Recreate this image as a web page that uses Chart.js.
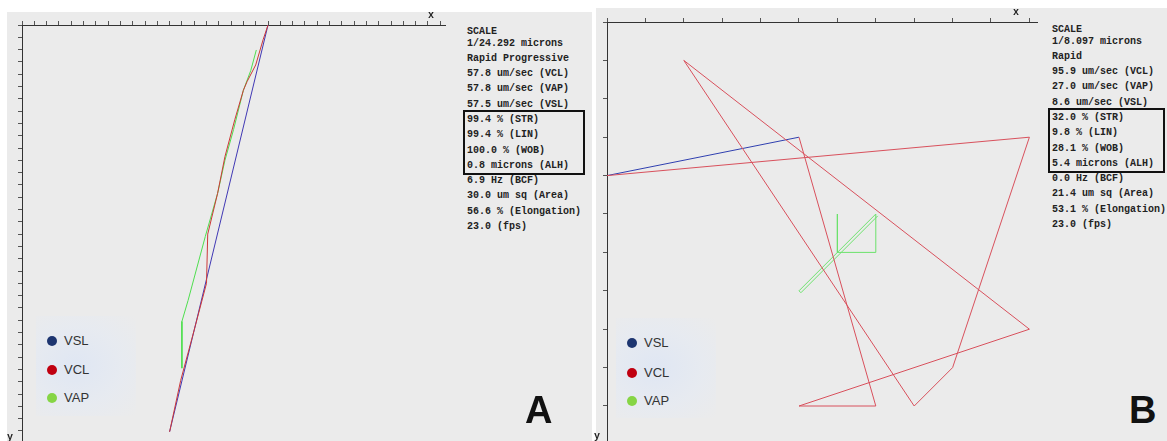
<!DOCTYPE html>
<html>
<head>
<meta charset="utf-8">
<script src="https://cdn.jsdelivr.net/npm/chart.js@4.4.1/dist/chart.umd.min.js"></script>
<style>
  html, body { margin: 0; padding: 0; background: #fff; }
  body { width: 1167px; height: 441px; position: relative; overflow: hidden; font-family: "Liberation Sans", Arial, sans-serif; }
  .panel { position: absolute; background: #ebebeb; }
  .track { position: absolute; }
  .stats { position: absolute; font: bold 10px "Liberation Mono", monospace; color: #222; white-space: pre; }
  .stats div { height: 15.3px; line-height: 15.3px; }
  .stats .first { height: 9px; line-height: 9px; }
  .stats .box { border: 2px solid #111; margin-left: -4px; padding-left: 2px; height: auto; line-height: normal; margin-top: -2px; margin-bottom: -2px; }
  .legend { position: absolute; width: 100px; height: 100px;
    background: radial-gradient(ellipse at 40% 50%, rgba(222,230,244,0.9) 0%, rgba(228,234,244,0.6) 55%, rgba(235,235,235,0) 100%); }
  .legend div { position: absolute; left: 11px; font-size: 13px; color: #333; }
  .legend span { display: inline-block; width: 10px; height: 10px; border-radius: 50%; margin-right: 7px; vertical-align: -1px; }
  .letter { position: absolute; font: bold 38px "Liberation Sans", Arial, sans-serif; color: #111; }
  .axlbl { position: absolute; font: bold 10px "Liberation Mono", monospace; color: #222; }
</style>
</head>
<body>
<div class="panel" style="left:7px;top:12px;width:585px;height:429px"></div>
<div class="panel" style="left:596px;top:8px;width:571px;height:433px"></div>

<div class="legend" style="left:36px;top:316px"><div style="top:17px"><span style="background:#1d3570"></span>VSL</div><div style="top:46px"><span style="background:#c00010"></span>VCL</div><div style="top:74px"><span style="background:#86d545"></span>VAP</div></div>
<div class="legend" style="left:616px;top:318px"><div style="top:17px"><span style="background:#1d3570"></span>VSL</div><div style="top:47px"><span style="background:#c00010"></span>VCL</div><div style="top:75px"><span style="background:#86d545"></span>VAP</div></div>

<div class="track" style="left:0;top:0;width:446px;height:441px"><canvas id="trackA"></canvas></div>
<div class="track" style="left:590px;top:0;width:448px;height:441px"><canvas id="trackB"></canvas></div>

<div class="axlbl" style="left:428px;top:10px">x</div>
<div class="axlbl" style="left:1013px;top:7px">x</div>
<div class="axlbl" style="left:7px;top:432px">y</div>
<div class="axlbl" style="left:594px;top:431px">y</div>

<div class="stats" id="statsA" style="left:467px;top:26.5px"></div>
<div class="stats" id="statsB" style="left:1052px;top:24.5px"></div>

<div class="letter" style="left:525px;top:389px">A</div>
<div class="letter" style="left:1129px;top:389px">B</div>

<script>
// Track A (one tick = 1 unit, y grows downward)
const vslAX = [20, 12];
const vslAY = [0, 33.07];
const vclAX = [20, 19.6, 19.0, 18.3, 18.0, 17.3, 16.5, 15.9, 15.1, 15.0, 14.0, 12.9, 12.0];
const vclAY = [0, 1.2, 3.25, 4.6, 5.3, 7.7, 10.7, 13.7, 17.0, 21.0, 24.8, 28.9, 33.07];
const vapAX = [19.05, 18.6, 18.0, 17.2, 16.5, 15.9, 14.9, 13.5, 13.0, 13.0];
const vapAY = [2.03, 3.7, 5.3, 8.5, 11.0, 13.7, 17.2, 22.4, 24.1, 27.9];

// Track B
const vslBX = [0, 5];
const vslBY = [4, 3];
const vclBX = [0, 11, 9, 8, 2, 11, 5, 7, 5];
const vclBY = [4, 3, 9, 10, 1, 8, 10, 10, 3];
const vapBX = [6, 6, 7, 7, 5, 5.05, 7.05];
const vapBY = [5, 6, 6, 5, 7, 7.05, 5.05];

// Stats text
const statsA = ['SCALE', '1/24.292 microns', 'Rapid Progressive', '57.8 um/sec (VCL)', '57.8 um/sec (VAP)', '57.5 um/sec (VSL)',
  '99.4 % (STR)', '99.4 % (LIN)', '100.0 % (WOB)', '0.8 microns (ALH)',
  '6.9 Hz (BCF)', '30.0 um sq (Area)', '56.6 % (Elongation)', '23.0 (fps)'];
const statsB = ['SCALE', '1/8.097 microns', 'Rapid', '95.9 um/sec (VCL)', '27.0 um/sec (VAP)', '8.6 um/sec (VSL)',
  '32.0 % (STR)', '9.8 % (LIN)', '28.1 % (WOB)', '5.4 microns (ALH)',
  '0.0 Hz (BCF)', '21.4 um sq (Area)', '53.1 % (Elongation)', '23.0 (fps)'];

const toPoints = (xs, ys) => xs.map((x, i) => ({ x: x, y: ys[i] }));

function fillStats(id, lines, boxWidth) {
  const el = document.getElementById(id);
  let html = '<div class="first">' + lines[0] + '</div>';
  for (let i = 1; i < 6; i++) html += '<div>' + lines[i] + '</div>';
  html += '<div class="box" style="width:' + boxWidth + 'px">';
  for (let i = 6; i < 10; i++) html += '<div>' + lines[i] + '</div>';
  html += '</div>';
  for (let i = 10; i < lines.length; i++) html += '<div>' + lines[i] + '</div>';
  el.innerHTML = html;
}
fillStats('statsA', statsA, 116);
fillStats('statsB', statsB, 111);

const axis = (pos, max, reverse) => ({
  type: 'linear',
  position: pos,
  reverse: reverse,
  min: 0,
  max: max,
  ticks: { display: false, stepSize: 1, autoSkip: false, includeBounds: false },
  grid: { drawOnChartArea: false, drawTicks: true, tickLength: 4, color: '#555', lineWidth: 1 },
  border: { display: true, color: '#333', width: 1 }
});

function initTrack(id, sets, xMax, yMax, padding) {
  const ctx = document.getElementById(id).getContext('2d');
  return new Chart(ctx, {
    type: 'scatter',
    data: {
      datasets: sets.map(s => ({
        label: s.label,
        data: s.data,
        showLine: true,
        borderColor: s.color,
        borderWidth: 1,
        pointRadius: 0,
        tension: 0,
        fill: false
      }))
    },
    options: {
      responsive: true,
      maintainAspectRatio: false,
      animation: false,
      events: [],
      layout: { padding: padding },
      plugins: { legend: { display: false }, tooltip: { enabled: false } },
      scales: {
        x: axis('top', xMax, false),
        y: axis('left', yMax, true)
      }
    }
  });
}

initTrack('trackA', [
  { label: 'VCL', data: toPoints(vclAX, vclAY), color: '#cc3838' },
  { label: 'VAP', data: toPoints(vapAX, vapAY), color: '#4ede4e' },
  { label: 'VSL', data: toPoints(vslAX, vslAY), color: '#4038b4' }
], (445 - 22) / 12.3, (441 - 25) / 12.3, { left: 18, top: 21, right: 1, bottom: 0 });

initTrack('trackB', [
  { label: 'VCL', data: toPoints(vclBX, vclBY), color: '#d8505c' },
  { label: 'VAP', data: toPoints(vapBX, vapBY), color: '#6ce26c' },
  { label: 'VSL', data: toPoints(vslBX, vslBY), color: '#3040b0' }
], (1037 - 607) / 38.4, (441 - 22) / 38.4, { left: 13, top: 18, right: 1, bottom: 0 });
</script>
</body>
</html>
